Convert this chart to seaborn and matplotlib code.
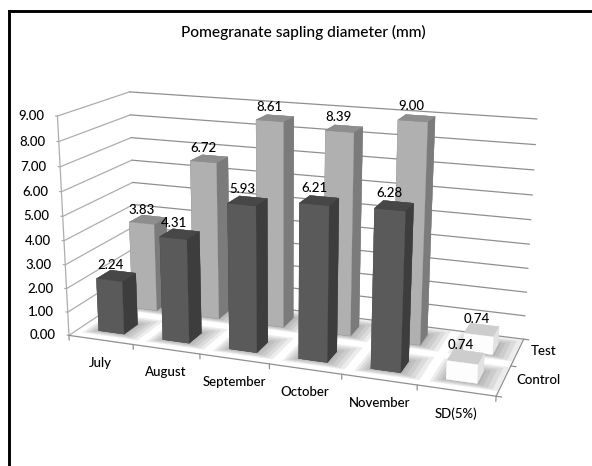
import numpy as np
import matplotlib
matplotlib.use('Agg')
import matplotlib.pyplot as plt
import seaborn as sns
from mpl_toolkits.mplot3d import proj3d
from mpl_toolkits.mplot3d.art3d import Poly3DCollection

# Data
months = ['July', 'August', 'September', 'October', 'November', 'SD(5%)']
control = [2.24, 4.31, 5.93, 6.21, 6.28, 0.74]
test = [3.83, 6.72, 8.61, 8.39, 9.00, 0.74]
rows = ['Control', 'Test']
z_ticks = np.arange(0, 10)

W, H = 592, 466
BAR = 0.4
GAP = 0.3

# faces: bottom, top, front, back, left, right
dark = ['#3c3c3c', '#474747', '#5a5a5a', '#3c3c3c', '#3c3c3c', '#3d3d3d']
light = ['#7a7a7a', '#8e8e8e', '#b0b0b0', '#7a7a7a', '#7a7a7a', '#7b7b7b']
white = ['#dddddd', '#cdcdcd', '#fdfdfd', '#dddddd', '#dddddd', '#e2e2e2']
back_col = '#8f8f8f'
side_col = '#adadad'

sns.set_theme(style='white')
plt.rcParams['font.family'] = ['Lato', 'DejaVu Sans']
fig = plt.figure(figsize=(W / 100, H / 100), dpi=100)

# outer frame of the page, only left and top survive the crop
bg = fig.add_axes([9.2 / W, 0, 1 - 9.2 / W, 1 - 10.5 / H])
bg.set_xticks([])
bg.set_yticks([])
sns.despine(ax=bg, top=False, right=True, left=False, bottom=True)
for side in ['left', 'top']:
    bg.spines[side].set_color('black')
    bg.spines[side].set_linewidth(2.1)

ax = fig.add_axes([0.06261, -0.05030, 0.85245, 1.08294], projection='3d', computed_zorder=False)
ax.patch.set_alpha(0)
ax.set_axis_off()

n = len(months)
# walls
for z in z_ticks:
    ax.plot([0, 0], [0, 2], [z, z], color=side_col, lw=0.9, zorder=1)
    ax.plot([0, n], [2, 2], [z, z], color=back_col, lw=0.9, zorder=1)
    ax.plot([-0.03, 0], [0, 0], [z, z], color=side_col, lw=0.9, zorder=1)
ax.plot([0, 0], [0, 0], [0, 9], color=side_col, lw=0.9, zorder=1)
# floor edges and ticks
ax.plot([0, n, n], [0, 0, 2], [0, 0, 0], color=back_col, lw=0.9, zorder=1)
for i in range(n + 1):
    ax.plot([i, i], [0, 0], [0, -0.2], color=back_col, lw=0.9, zorder=1)
for j in range(3):
    ax.plot([n, n + 0.07], [j, j], [0, 0], color=back_col, lw=0.9, zorder=1)

draw_order = 10
for j, vals in reversed(list(enumerate([control, test]))):
    for i, v in enumerate(vals):
        x0, y0 = i + GAP, j + GAP
        # soft floor shadow, built from nested flat layers
        for grow in [0.26, 0.2, 0.14, 0.08, 0.03]:
            xs = [x0 - grow * 0.7, x0 + BAR + grow * 1.1, x0 + BAR + grow * 1.1, x0 - grow * 0.7]
            ys = [y0 - grow * 0.55, y0 - grow * 0.55, y0 + BAR + grow, y0 + BAR + grow]
            shadow = Poly3DCollection([list(zip(xs, ys, [0, 0, 0, 0]))], facecolor='#585858',
                                      edgecolor='none', alpha=0.11, zorder=5)
            ax.add_collection3d(shadow)
        colors = white if i == n - 1 else (dark if j == 0 else light)
        ax.bar3d(x0, y0, 0, BAR, BAR, v, color=colors, edgecolor=colors, linewidth=0.2,
                 shade=False, zorder=draw_order)
        draw_order += 1

ax.set_xlim(0, n, view_margin=0)
ax.set_ylim(0, 2, view_margin=0)
ax.set_zlim(0, 9, view_margin=0)
ax.view_init(16.1117, -70.3175, -0.2093)
ax.set_box_aspect((1.93169, 0.66313, 1))
ax.set_proj_type('persp', focal_length=0.43893)


def label(x, y, z, s, dx=0, dy=0, ha='center'):
    # place 2D text on the projected position of a data point
    u, v, _ = proj3d.proj_transform(x, y, z, ax.get_proj())
    ax.annotate(s, (u, v), xytext=(dx, dy), textcoords='offset pixels', ha=ha, va='center',
                fontsize=9.5, fontweight='medium', color='black', zorder=50, annotation_clip=False)


for z in z_ticks:
    label(0, 0, z, f'{z:.2f}', dx=-13.5, ha='right')
for j, vals in enumerate([control, test]):
    for i, v in enumerate(vals):
        label(i + 0.5, j + 0.5, v + 0.62, f'{v:.2f}', dx=-5.5, dy=-4)
for i, name in enumerate(months):
    label(i + 0.5, 0, 0, name, dy=-23)
for j, name in enumerate(rows):
    label(n, j + 0.5, 0, name, dx=13, dy=1, ha='left')

fig.text(303 / W, 1 - 32 / H, 'Pomegranate sapling diameter (mm)', ha='center', va='center',
         fontsize=11.2, fontweight='medium', color='black')

fig.savefig('out.png', dpi=100)
